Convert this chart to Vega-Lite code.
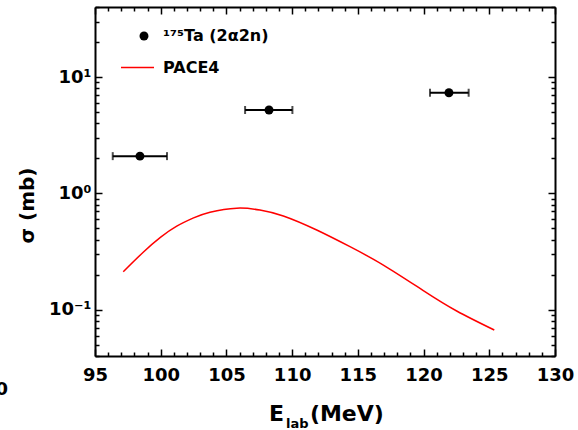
{
  "$schema": "https://vega.github.io/schema/vega-lite/v6.json",
  "width": 460,
  "height": 349,
  "autosize": {"type": "none"},
  "padding": {"left": 95, "top": 7, "right": 23, "bottom": 74},
  "config": {
    "font": "DejaVu Sans",
    "view": {"stroke": null},
    "axis": {"grid": false, "domainColor": "black", "domainWidth": 2, "tickColor": "black", "tickWidth": 1.5, "labelColor": "black", "titleColor": "black", "labelFontWeight": "bold", "titleFontWeight": "bold", "labelOverlap": false, "labelFlush": false}
  },
  "datasets": {
    "pace4": [
      {"E": 97.15, "sigma": 0.212, "series": "PACE4"},
      {"E": 98.67, "sigma": 0.312, "series": "PACE4"},
      {"E": 100.0, "sigma": 0.42, "series": "PACE4"},
      {"E": 101.22, "sigma": 0.522, "series": "PACE4"},
      {"E": 102.5, "sigma": 0.615, "series": "PACE4"},
      {"E": 103.75, "sigma": 0.688, "series": "PACE4"},
      {"E": 105.78, "sigma": 0.746, "series": "PACE4"},
      {"E": 107.55, "sigma": 0.719, "series": "PACE4"},
      {"E": 109.33, "sigma": 0.639, "series": "PACE4"},
      {"E": 111.87, "sigma": 0.484, "series": "PACE4"},
      {"E": 114.40, "sigma": 0.348, "series": "PACE4"},
      {"E": 116.94, "sigma": 0.242, "series": "PACE4"},
      {"E": 119.98, "sigma": 0.146, "series": "PACE4"},
      {"E": 122.52, "sigma": 0.0975, "series": "PACE4"},
      {"E": 125.38, "sigma": 0.0669, "series": "PACE4"}
    ],
    "ta": [
      {"E": 98.42, "Elo": 96.35, "Ehi": 100.48, "sigma": 2.09, "series": "¹⁷⁵Ta (2α2n)"},
      {"E": 108.24, "Elo": 106.42, "Ehi": 110.02, "sigma": 5.21, "series": "¹⁷⁵Ta (2α2n)"},
      {"E": 121.93, "Elo": 120.49, "Ehi": 123.43, "sigma": 7.33, "series": "¹⁷⁵Ta (2α2n)"}
    ]
  },
  "resolve": {"axis": {"x": "independent", "y": "independent"}},
  "layer": [
    {
      "data": {"name": "pace4"},
      "mark": {"type": "line", "strokeWidth": 1.5, "interpolate": "natural"},
      "encoding": {
        "x": {"field": "E", "type": "quantitative",
          "scale": {"domain": [95, 130], "nice": false, "zero": false},
          "axis": {"orient": "bottom",
            "values": [95,96,97,98,99,100,101,102,103,104,105,106,107,108,109,110,111,112,113,114,115,116,117,118,119,120,121,122,123,124,125,126,127,128,129,130],
            "labelExpr": "datum.value % 5 == 0 ? datum.label : ''",
            "tickSize": {"condition": {"test": "datum.value % 5 == 0", "value": -7}, "value": -4},
            "labelFontSize": 18, "labelPadding": 17,
            "title": null}},
        "y": {"field": "sigma", "type": "quantitative",
          "scale": {"type": "log", "domain": [0.04, 40], "nice": false},
          "axis": {"orient": "left",
            "values": [0.04,0.05,0.06,0.07,0.08,0.09,0.1,0.2,0.3,0.4,0.5,0.6,0.7,0.8,0.9,1,2,3,4,5,6,7,8,9,10,20,30,40],
            "labelExpr": "datum.value == 0.1 ? '10⁻¹' : datum.value == 1 ? '10⁰' : datum.value == 10 ? '10¹' : ''",
            "tickSize": {"condition": {"test": "datum.value == 0.1 || datum.value == 1 || datum.value == 10", "value": -7}, "value": -4},
            "labelFontSize": 18, "labelPadding": 11,
            "title": "σ (mb)", "titleFontSize": 20, "titleX": -68, "titleY": 198, "titleAngle": -90, "titleAlign": "center", "titleBaseline": "middle"}},
        "color": {"field": "series", "type": "nominal",
          "scale": {"domain": ["PACE4"], "range": ["#ff0000"]},
          "legend": {"orient": "none", "legendX": 25, "legendY": 43, "title": null, "padding": 0,
            "symbolType": "stroke", "symbolSize": 1089, "symbolStrokeWidth": 1.5, "symbolStrokeColor": "#ff0000",
            "labelFontSize": 16, "labelFontWeight": "bold", "labelColor": "black", "labelOffset": 8}}
      }
    },
    {
      "data": {"name": "ta"},
      "mark": {"type": "errorbar", "ticks": true, "color": "black", "thickness": 2, "size": 8},
      "encoding": {
        "x": {"field": "Elo", "type": "quantitative", "scale": {"domain": [95, 130], "nice": false, "zero": false}, "axis": null},
        "x2": {"field": "Ehi"},
        "y": {"field": "sigma", "type": "quantitative", "scale": {"type": "log", "domain": [0.04, 40], "nice": false}, "axis": null}
      }
    },
    {
      "data": {"name": "ta"},
      "mark": {"type": "point", "filled": true, "color": "black", "opacity": 1, "size": 80},
      "encoding": {
        "x": {"field": "E", "type": "quantitative",
          "scale": {"domain": [95, 130], "nice": false, "zero": false},
          "axis": {"orient": "top", "labels": false, "title": null,
            "values": [95,96,97,98,99,100,101,102,103,104,105,106,107,108,109,110,111,112,113,114,115,116,117,118,119,120,121,122,123,124,125,126,127,128,129,130],
            "tickSize": {"condition": {"test": "datum.value % 5 == 0", "value": -7}, "value": -4}}},
        "y": {"field": "sigma", "type": "quantitative",
          "scale": {"type": "log", "domain": [0.04, 40], "nice": false},
          "axis": {"orient": "right", "labels": false, "title": null,
            "values": [0.04,0.05,0.06,0.07,0.08,0.09,0.1,0.2,0.3,0.4,0.5,0.6,0.7,0.8,0.9,1,2,3,4,5,6,7,8,9,10,20,30,40],
            "tickSize": {"condition": {"test": "datum.value == 0.1 || datum.value == 1 || datum.value == 10", "value": -7}, "value": -4}}},
        "shape": {"field": "series", "type": "nominal",
          "scale": {"range": ["circle"]},
          "legend": {"orient": "none", "legendX": 41, "legendY": 21, "title": null, "padding": 0,
            "symbolFillColor": "black", "symbolStrokeColor": "black", "symbolSize": 80,
            "labelFontSize": 16, "labelFontWeight": "bold", "labelColor": "black", "labelOffset": 11}}
      }
    },
    {
      "data": {"values": [{}]},
      "mark": {"type": "text", "text": "E", "font": "DejaVu Sans", "fontWeight": "bold", "fontSize": 22, "align": "right", "baseline": "alphabetic", "color": "black"},
      "encoding": {
        "x": {"datum": 109.38, "type": "quantitative", "scale": {"domain": [95, 130], "nice": false, "zero": false}, "axis": null},
        "y": {"datum": 0.01104, "type": "quantitative", "scale": {"type": "log", "domain": [0.04, 40], "nice": false}, "axis": null}
      }
    },
    {
      "data": {"values": [{}]},
      "mark": {"type": "text", "text": "lab", "font": "DejaVu Sans", "fontWeight": "bold", "fontSize": 13, "align": "left", "baseline": "alphabetic", "color": "black"},
      "encoding": {
        "x": {"datum": 109.53, "type": "quantitative", "scale": {"domain": [95, 130], "nice": false, "zero": false}, "axis": null},
        "y": {"datum": 0.0097, "type": "quantitative", "scale": {"type": "log", "domain": [0.04, 40], "nice": false}, "axis": null}
      }
    },
    {
      "data": {"values": [{}]},
      "mark": {"type": "text", "text": "(MeV)", "font": "DejaVu Sans", "fontWeight": "bold", "fontSize": 22, "align": "left", "baseline": "alphabetic", "color": "black"},
      "encoding": {
        "x": {"datum": 111.35, "type": "quantitative", "scale": {"domain": [95, 130], "nice": false, "zero": false}, "axis": null},
        "y": {"datum": 0.01104, "type": "quantitative", "scale": {"type": "log", "domain": [0.04, 40], "nice": false}, "axis": null}
      }
    },
    {
      "data": {"values": [{}]},
      "mark": {"type": "text", "text": "0", "font": "DejaVu Sans", "fontWeight": "bold", "fontSize": 18, "align": "right", "baseline": "alphabetic", "color": "black"},
      "encoding": {
        "x": {"datum": 88.38, "type": "quantitative", "scale": {"domain": [95, 130], "nice": false, "zero": false}, "axis": null},
        "y": {"datum": 0.0185, "type": "quantitative", "scale": {"type": "log", "domain": [0.04, 40], "nice": false}, "axis": null}
      }
    }
  ]
}
